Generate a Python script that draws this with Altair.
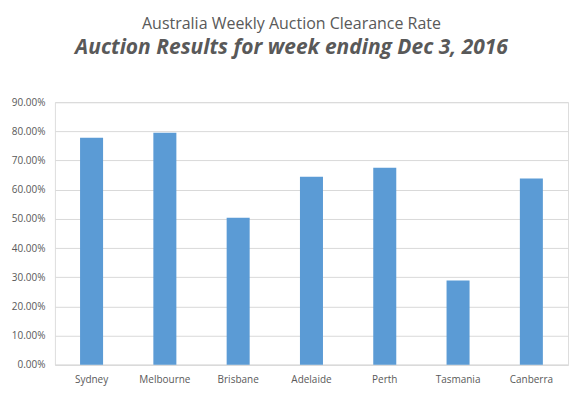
import altair as alt
import pandas as pd

cities = ["Sydney", "Melbourne", "Brisbane", "Adelaide", "Perth", "Tasmania", "Canberra"]
rates = [0.778, 0.795, 0.504, 0.644, 0.675, 0.289, 0.638]
y_ticks = [0.0, 0.1, 0.2, 0.3, 0.4, 0.5, 0.6, 0.7, 0.8, 0.9]

df = pd.DataFrame({"city": cities, "rate": rates})

FONT = "Open Sans"
GRAY = "#595959"

chart = alt.Chart(df).mark_bar(color="#5b9bd5").encode(
    x=alt.X("city:N", sort=cities, title=None,
            scale=alt.Scale(paddingInner=0.686, paddingOuter=0.343),
            axis=alt.Axis(labelAngle=0, labelFont=FONT, labelFontSize=10, labelColor=GRAY,
                          ticks=False, domainColor="#d9d9d9", labelPadding=10, grid=False)),
    y=alt.Y("rate:Q", title=None,
            scale=alt.Scale(domain=[0, 0.9], nice=False),
            axis=alt.Axis(values=y_ticks, format=".2%", labelFont=FONT, labelFontSize=10,
                          labelColor=GRAY, ticks=False, domain=False, gridColor="#d9d9d9",
                          labelPadding=10)),
).properties(
    width=514, height=263,
    autosize=alt.AutoSizeParams(type="none"),
    padding={"left": 47, "top": 94, "right": 8, "bottom": 24},
    title=alt.TitleParams(
        text="Australia Weekly Auction Clearance Rate",
        subtitle="Auction Results for week ending Dec 3, 2016",
        anchor="middle", dx=-20, offset=39,
        font=FONT, fontSize=16, fontWeight="normal", color=GRAY,
        subtitleFont=FONT, subtitleFontSize=21, subtitleFontStyle="italic",
        subtitleFontWeight="bold", subtitleColor=GRAY, subtitlePadding=5,
    ),
).configure_view(stroke=None).configure(background="white")

chart.save("out.html", embed_options={"renderer": "svg", "actions": False})
